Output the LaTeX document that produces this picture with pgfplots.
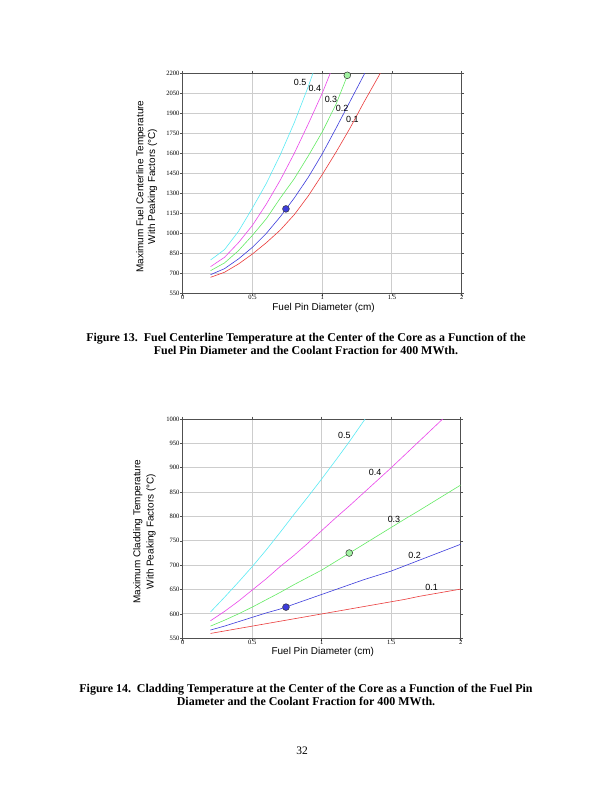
\documentclass[border=0pt]{standalone}
\usepackage{pgfplots}
\pgfplotsset{compat=1.18}
\usepackage{fontspec}
\setmainfont{Liberation Serif}
\newfontfamily\arial{Liberation Sans}

\definecolor{cyanC}{RGB}{90,235,245}
\definecolor{magC}{RGB}{235,70,235}
\definecolor{greenC}{RGB}{100,235,100}
\definecolor{blueC}{RGB}{60,60,220}
\definecolor{redC}{RGB}{235,60,60}
\definecolor{frameC}{RGB}{80,80,80}
\definecolor{gridC}{RGB}{205,205,205}

\tikzset{crvlab/.style={font=\arial\fontsize{9}{10}\selectfont, inner sep=0pt}}

\pgfplotsset{
  pinplot/.style={
    scale only axis,
    anchor=south west,
    xmin=0, xmax=2,
    xtick={0,0.5,1,1.5,2},
    grid=major,
    major grid style={draw=gridC, line width=1bp},
    axis line style={draw=frameC, line width=0.9bp},
    tick align=outside,
    major tick length=2.5bp,
    tick style={draw=frameC, line width=0.5bp},
    /pgf/number format/assume math mode=true,
    /pgf/number format/1000 sep={},
    scaled ticks=false,
    ticklabel style={font=\fontsize{6.6}{7}\selectfont, inner sep=0.6bp},
    xticklabel style={yshift=1.8bp},
    label style={font=\arial\fontsize{10}{11.8}\selectfont},
    ylabel style={align=center, anchor=center},
    xlabel style={anchor=center},
    every axis plot/.append style={line width=0.6bp},
  },
}

\begin{document}
\begin{tikzpicture}
\fill[white] (0,0) rectangle (612bp,-792bp);
\path[use as bounding box] (0,0) rectangle (612bp,-792bp);

% Fuel centreline temperature
\begin{axis}[pinplot,
  at={(182.7bp,-293.3bp)}, width=279bp, height=220bp,
  ymin=550, ymax=2200, ytick={550,700,...,2200},
  xlabel={Fuel Pin Diameter (cm)},
  xlabel style={at={(axis description cs:0.505,0)}, yshift=-15bp},
  ylabel={Maximum Fuel Centerline Temperature\\With Peaking Factors (°C)},
  ylabel style={at={(axis description cs:-0.129,0.485)}},
]
\addplot[cyanC] coordinates {(0.2,800)(0.3,878)(0.4,1015)(0.5,1190)(0.6,1375)(0.7,1590)(0.8,1830)(0.9,2100)(1.0,2400)};
\addplot[magC] coordinates {(0.2,750)(0.3,820)(0.4,930)(0.5,1060)(0.6,1220)(0.7,1400)(0.8,1600)(0.9,1820)(1.0,2050)(1.1,2310)};
\addplot[greenC] coordinates {(0.2,720)(0.3,778)(0.4,870)(0.5,985)(0.6,1110)(0.7,1265)(0.8,1410)(0.9,1580)(1.0,1760)(1.1,1970)(1.2,2235)(1.3,2480)};
\addplot[blueC] coordinates {(0.2,690)(0.3,735)(0.4,808)(0.5,895)(0.6,1000)(0.7,1125)(0.8,1265)(0.9,1420)(1.0,1595)(1.1,1790)(1.2,1990)(1.3,2190)(1.4,2390)};
\addplot[redC] coordinates {(0.2,670)(0.3,708)(0.4,770)(0.5,845)(0.6,930)(0.7,1025)(0.8,1140)(0.9,1280)(1.0,1440)(1.1,1610)(1.2,1790)(1.3,1985)(1.4,2170)(1.5,2360)};
\addplot[only marks, mark=*, mark size=3.4bp, mark options={fill=blueC, draw=black!80, line width=0.5bp}] coordinates {(0.74,1183)};
\addplot[only marks, mark=*, mark size=3.4bp, mark options={fill=greenC!60!white, draw=black!80, line width=0.5bp}] coordinates {(1.18,2185)};
\node[crvlab] at (axis cs:0.841,2129) {0.5};
\node[crvlab] at (axis cs:0.948,2083) {0.4};
\node[crvlab] at (axis cs:1.063,2005) {0.3};
\node[crvlab] at (axis cs:1.142,1935) {0.2};
\node[crvlab] at (axis cs:1.216,1855) {0.1};
\end{axis}

\node[font=\bfseries\fontsize{12}{13.3}\selectfont, align=center] at (306bp,-344bp)
  {Figure 13.\ \ Fuel Centerline Temperature at the Center of the Core as a Function of the\\Fuel Pin Diameter and the Coolant Fraction for 400 MWth.};

% Cladding temperature
\begin{axis}[pinplot,
  at={(182.7bp,-638.3bp)}, width=278bp, height=219.3bp,
  ymin=550, ymax=1000, ytick={550,600,...,1000},
  xlabel={Fuel Pin Diameter (cm)},
  xlabel style={at={(axis description cs:0.504,0)}, yshift=-13.2bp},
  ylabel={Maximum Cladding Temperature\\With Peaking Factors (°C)},
  ylabel style={at={(axis description cs:-0.138,0.486)}, font=\arial\fontsize{10}{13.3}\selectfont},
]
\addplot[cyanC] coordinates {(0.2,604)(0.3,634)(0.4,665)(0.5,697)(0.6,731)(0.7,767)(0.8,804)(0.9,840)(1.0,877)(1.1,915)(1.2,954)(1.3,995)(1.4,1036)};
\addplot[magC] coordinates {(0.2,586)(0.3,605)(0.4,626)(0.5,649)(0.6,672)(0.7,697)(0.8,720)(0.9,745)(1.0,771)(1.1,797)(1.2,822)(1.3,848)(1.4,874)(1.5,900)(1.6,927)(1.7,954)(1.8,981)(1.9,1008)(2.0,1035)};
\addplot[greenC] coordinates {(0.2,575)(0.3,587)(0.4,600)(0.5,614)(0.6,629)(0.7,644)(0.8,660)(0.9,675)(1.0,690)(1.1,707.5)(1.2,725)(1.3,742.5)(1.4,760)(1.5,777.5)(1.6,795)(1.7,812)(1.8,829.5)(1.9,847)(2.0,864.5)};
\addplot[blueC] coordinates {(0.2,567)(0.3,575)(0.4,584)(0.5,593)(0.6,602)(0.7,610)(0.8,620)(0.9,630)(1.0,640)(1.1,650)(1.2,660)(1.3,670)(1.4,679)(1.5,688)(1.6,699)(1.7,710)(1.8,721)(1.9,732)(2.0,743)};
\addplot[redC] coordinates {(0.2,560)(0.3,565)(0.4,570)(0.5,575)(0.6,580)(0.7,585)(0.8,590)(0.9,595)(1.0,600)(1.1,605)(1.2,610)(1.3,615)(1.4,620)(1.5,625)(1.6,630)(1.7,636)(1.8,641)(1.9,646)(2.0,651)};
\addplot[only marks, mark=*, mark size=3.4bp, mark options={fill=blueC, draw=black!80, line width=0.5bp}] coordinates {(0.743,614)};
\addplot[only marks, mark=*, mark size=3.4bp, mark options={fill=greenC!60!white, draw=black!80, line width=0.5bp}] coordinates {(1.198,725)};
\node[crvlab] at (axis cs:1.163,966) {0.5};
\node[crvlab] at (axis cs:1.384,890) {0.4};
\node[crvlab] at (axis cs:1.52,794) {0.3};
\node[crvlab] at (axis cs:1.668,720) {0.2};
\node[crvlab] at (axis cs:1.79,654) {0.1};
\end{axis}

\node[font=\bfseries\fontsize{12}{13.3}\selectfont, align=center] at (306bp,-694.6bp)
  {Figure 14.\ \ Cladding Temperature at the Center of the Core as a Function of the Fuel Pin\\Diameter and the Coolant Fraction for 400 MWth.};

\node[font=\fontsize{11.5}{13}\selectfont] at (302bp,-750.5bp) {32};
\end{tikzpicture}
\end{document}
